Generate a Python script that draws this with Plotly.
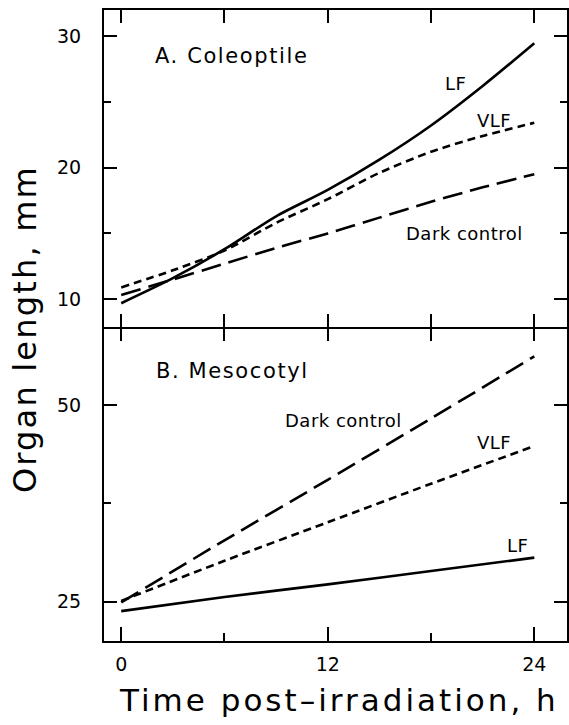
import plotly.graph_objects as go

# ---------------- data ----------------
t_top = [0, 3, 6, 9, 12, 15, 18, 21, 24]
top_lf = [9.7, 11.6, 13.8, 16.3, 18.3, 20.6, 23.2, 26.2, 29.45]
top_vlf = [10.9, 12.2, 13.7, 15.8, 17.6, 19.6, 21.2, 22.4, 23.4]
top_dark = [10.33, 11.5, 12.7, 13.9, 15.0, 16.2, 17.4, 18.5, 19.5]

t_bot = [0, 6, 12, 18, 24]
bot_dark = [24.9, 32.8, 40.5, 48.3, 56.2]
bot_vlf = [25.1, 30.2, 35.1, 40.0, 44.8]
bot_lf = [23.8, 25.6, 27.2, 28.9, 30.6]

x_ticks = [0, 12, 24]
y_ticks_top = [10, 20, 30]
y_ticks_bot = [25, 50]

FONT = "DejaVu Sans"
LW = 2.6
SHORT_DASH = "8px,5px"
LONG_DASH = "20px,8px"

fig = go.Figure()

def add(x, y, dash, xa, ya):
    fig.add_trace(go.Scatter(x=x, y=y, mode="lines", xaxis=xa, yaxis=ya,
                             line=dict(color="black", width=LW, dash=dash, shape="spline", smoothing=0.8),
                             showlegend=False, hoverinfo="skip"))

add(t_top, top_lf, "solid", "x", "y")
add(t_top, top_vlf, SHORT_DASH, "x", "y")
add(t_top, top_dark, LONG_DASH, "x", "y")
add(t_bot, bot_dark, LONG_DASH, "x2", "y2")
add(t_bot, bot_vlf, SHORT_DASH, "x2", "y2")
add(t_bot, bot_lf, "solid", "x2", "y2")

XR = [-1.0, 25.9]
split = 0.4984
axcommon = dict(showgrid=False, zeroline=False, linecolor="black", linewidth=2,
                tickcolor="black", tickwidth=2)

fig.update_layout(
    width=569, height=725,
    margin=dict(l=104, r=0, t=10, b=84),
    paper_bgcolor="white", plot_bgcolor="white",
    font=dict(family=FONT, color="black", size=19),
    xaxis=dict(domain=[0, 1], range=XR, anchor="y", showline=True, mirror="ticks",
               ticks="inside", tickvals=[0, 6, 12, 18, 24], ticklen=13,
               showticklabels=False, **axcommon),
    xaxis3=dict(range=XR, anchor="y", overlaying="x", side="bottom", showline=False,
                ticks="outside", tickvals=[0, 6, 12, 18, 24], ticklen=13,
                showticklabels=False, showgrid=False, zeroline=False,
                tickcolor="black", tickwidth=2),
    yaxis=dict(domain=[split, 1], range=[7.93, 31.97], anchor="x", showline=True,
               mirror="ticks", ticks="inside", tickvals=y_ticks_top, ticklen=13,
               minor=dict(dtick=5, tick0=0, ticks="inside", ticklen=7, tickcolor="black", tickwidth=2),
               ticklabelstandoff=17, tickfont=dict(size=19), **axcommon),
    xaxis2=dict(domain=[0, 1], range=XR, anchor="y2", showline=True, mirror=False,
                ticks="inside", tickvals=x_ticks, ticklen=14,
                minor=dict(dtick=6, tick0=0, ticks="inside", ticklen=8, tickcolor="black", tickwidth=2),
                ticklabelstandoff=5, tickfont=dict(size=19), **axcommon),
    yaxis2=dict(domain=[0, split], range=[20, 60], anchor="x2", showline=True,
                mirror="ticks", ticks="inside", tickvals=y_ticks_bot, ticklen=13,
                minor=dict(dtick=12.5, tick0=0, ticks="inside", ticklen=7, tickcolor="black", tickwidth=2),
                ticklabelstandoff=17, tickfont=dict(size=19), **axcommon),
)
fig.add_trace(go.Scatter(x=[None], y=[None], xaxis="x3", yaxis="y", showlegend=False))

def ann(text, x, y, xref, yref, size, xanchor="center", spacing=None, textangle=0):
    if spacing:
        text = f'<span style="letter-spacing:{spacing}px">{text}</span>'
    fig.add_annotation(text=text, x=x, y=y, xref=xref, yref=yref, showarrow=False,
                       xanchor=xanchor, yanchor="middle", textangle=textangle,
                       font=dict(family=FONT, size=size, color="black"))

# panel labels
ann("A. Coleoptile", 1.82, 28.5, "x", "y", 21, xanchor="left", spacing=1.6)
ann("B. Mesocotyl", 1.92, 54.4, "x2", "y2", 21, xanchor="left", spacing=1.6)
# curve labels top
ann("LF", 19.4, 26.4, "x", "y", 18, spacing=0.5)
ann("VLF", 21.66, 23.6, "x", "y", 18, spacing=0.5)
ann("Dark control", 19.95, 15.0, "x", "y", 18, spacing=0.5)
# curve labels bottom
ann("Dark control", 12.9, 48.1, "x2", "y2", 18, spacing=0.5)
ann("VLF", 21.66, 45.3, "x2", "y2", 18, spacing=0.5)
ann("LF", 23.0, 32.2, "x2", "y2", 18, spacing=0.5)

# axis titles
ann("Time post–irradiation, h", 0.027, -0.093, "paper", "paper", 31, xanchor="left", spacing=3.0)
ann("Organ length, mm", -0.171, 0.494, "paper", "paper", 32, spacing=2.2, textangle=-90)

fig.write_html("out.html", config={"displayModeBar": False},
               post_script="document.body.style.margin='0';document.body.style.overflow='hidden';"
                           "document.documentElement.style.overflow='hidden';")
